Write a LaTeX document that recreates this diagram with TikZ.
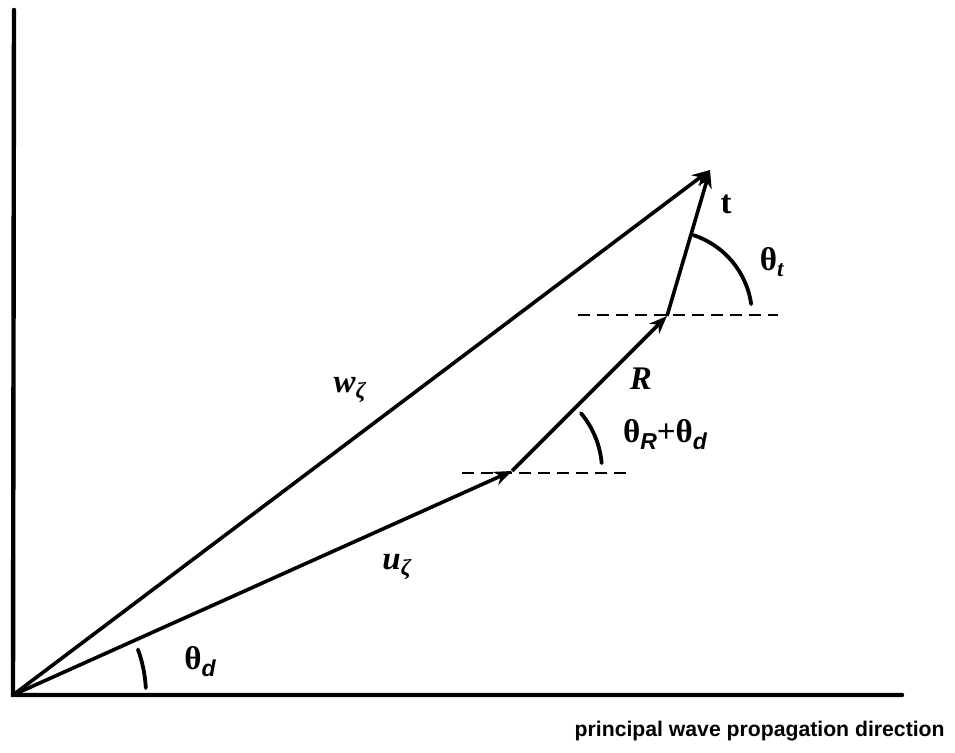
\documentclass[tikz,border=0pt]{standalone}
\usepackage{fontspec}
\setmainfont{Liberation Sans}
\newfontfamily\lblfont{Liberation Serif}
\newfontfamily\subfont{Liberation Sans}
\usetikzlibrary{arrows.meta}

\newcommand{\lowsub}[1]{\raisebox{-0.45ex}{\fontsize{11.5}{13}\selectfont #1}}

\begin{document}
\begin{tikzpicture}[x=0.5pt, y=0.5pt,
            axis/.style={line width=2.2pt, line cap=round},
            vec/.style={line width=1.8pt, -{Stealth[length=9pt, width=7pt]}},
            guide/.style={line width=1.4pt, dash pattern=on 6pt off 3.5pt},
            angarc/.style={line width=1.9pt, line cap=round},
            lbl/.style={font=\lblfont\bfseries\fontsize{16.5}{18}\selectfont, inner sep=1pt}]
            \useasboundingbox (0,0) rectangle (955,753);

            % Axes
            \coordinate (O) at (13,58);
            \coordinate (ytop) at (14,743);
            \coordinate (xend) at (902,58);
            \draw [axis] (ytop) -- (O) -- (xend);
            \node (direction) [anchor=base east, font=\bfseries\fontsize{10.6}{12}\selectfont, inner sep=0pt] at (945,16) {principal wave propagation direction};

            % Vector tips
            \coordinate (U) at (512,282);
            \coordinate (Rt) at (667,437);
            \coordinate (T) at (710,583);

            % Horizontal guides
            \coordinate (lowL) at (462,280);
            \coordinate (lowR) at (633,280);
            \coordinate (upL) at (578,438);
            \coordinate (upR) at (778,438);
            \draw [guide] (lowL) -- (lowR);
            \draw [guide] (upL) -- (upR);

            % Vectors
            \draw [vec] (O) -- (U);
            \draw [vec] (U) -- (Rt);
            \draw [vec] (Rt) -- (T);
            \draw [vec] (O) -- (T);

            % Angles
            \draw [angarc] ([shift={(3:133)}]O) arc (3:20:133);
            \draw [angarc] ([shift={(5:90)}]U) arc (5:40:90);
            \draw [angarc] ([shift={(8:85)}]Rt) arc (8:72:85);

            % Labels
            \node (wlabel) [lbl] at (350,363) {\textit{w}\lowsub{\textit{ζ}}};
            \node (ulabel) [lbl] at (397,186) {\textit{u}\lowsub{\textit{ζ}}};
            \node (Rlabel) [lbl] at (641,374) {\textit{R}};
            \node (tlabel) [lbl] at (726,549) {t};
            \node (thetat) [lbl] at (772,491) {θ\lowsub{\textit{t}}};
            \node (thetaR) [lbl] at (665,318) {θ\lowsub{\subfont\itshape R}+θ\lowsub{\subfont\itshape d}};
            \node (thetad) [lbl] at (200,91) {θ\lowsub{\subfont\itshape d}};
        \end{tikzpicture}
\end{document}
